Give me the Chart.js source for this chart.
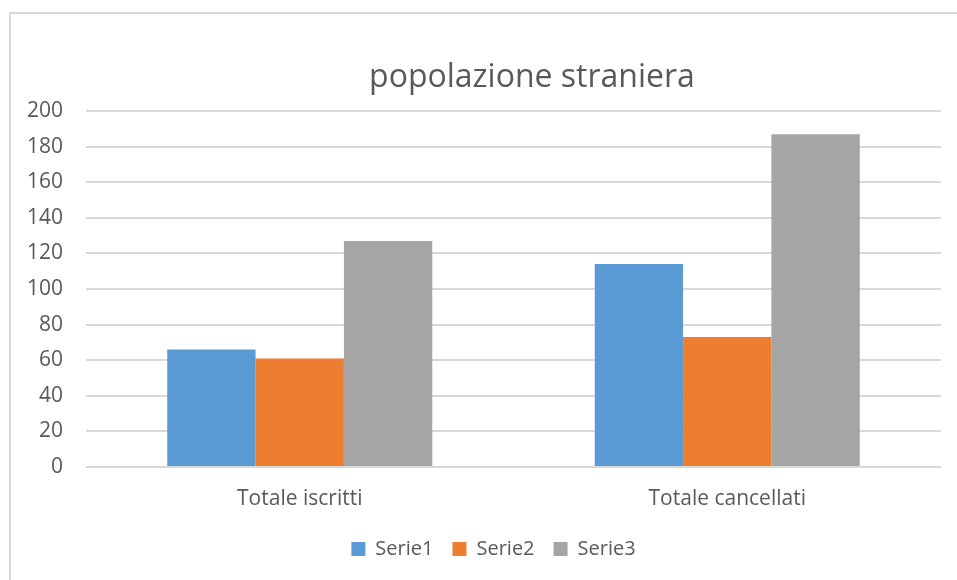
<!DOCTYPE html>
<html>
<head>
<meta charset="utf-8">
<script src="https://cdn.jsdelivr.net/npm/chart.js@4.4.0/dist/chart.umd.min.js"></script>
<style>
    html, body { margin: 0; padding: 0; background: #fff; }
    #wrap { position: relative; width: 957px; height: 580px; overflow: hidden; }
    #frame { position: absolute; left: 9px; top: 12px; width: 960px; height: 600px;
             border-left: 2px solid #d9d9d9; border-top: 2px solid #d9d9d9; box-sizing: border-box; }
    canvas { position: absolute; left: 0; top: 0; }
</style>
</head>
<body>
<div id="wrap">
    <div id="frame"></div>
    <canvas id="chart" width="957" height="580"></canvas>
</div>
<script>
    // Chart data
    const categories = ['Totale iscritti', 'Totale cancellati'];
    const serie1 = [66, 114];
    const serie2 = [61, 73];
    const serie3 = [127, 187];
    const seriesNames = ['Serie1', 'Serie2', 'Serie3'];
    const seriesColors = ['#5B9BD5', '#ED7D31', '#A5A5A5'];
    const yMax = 200;
    const yStep = 20;
    const chartTitle = 'popolazione straniera';

    const textColor = '#595959';
    const fontFamily = '"Open Sans", Lato, sans-serif';

    // The title sits a bit right of centre in the original, so draw it by hand
    const titlePlugin = {
        id: 'offsetTitle',
        afterLayout: function (chart) {
            // nudge the legend right too, the original box is wider than the crop
            chart.legend.left += 18;
            chart.legend.right += 18;
        },
        afterDraw: function (chart) {
            const ctx = chart.ctx;
            ctx.save();
            ctx.font = '32px ' + fontFamily;
            ctx.fillStyle = textColor;
            ctx.textAlign = 'center';
            ctx.textBaseline = 'alphabetic';
            ctx.fillText(chartTitle, 532, 87);
            ctx.restore();
        }
    };

    new Chart(document.getElementById('chart'), {
        type: 'bar',
        data: {
            labels: categories,
            datasets: [serie1, serie2, serie3].map(function (values, i) {
                return {
                    label: seriesNames[i],
                    data: values,
                    backgroundColor: seriesColors[i],
                    borderWidth: 0,
                    categoryPercentage: 0.62,
                    barPercentage: 1.0
                };
            })
        },
        plugins: [titlePlugin],
        options: {
            responsive: false,
            animation: false,
            layout: {
                padding: { left: 10, right: 16, top: 111, bottom: 11 }
            },
            plugins: {
                title: { display: false },
                legend: {
                    position: 'bottom',
                    labels: {
                        color: textColor,
                        font: { family: fontFamily, size: 20 },
                        boxWidth: 14,
                        boxHeight: 14,
                        padding: 19
                    }
                },
                tooltip: { enabled: false }
            },
            scales: {
                x: {
                    grid: { display: false },
                    border: { display: false },
                    ticks: {
                        color: textColor,
                        font: { family: fontFamily, size: 21 },
                        padding: 11
                    },
                    afterFit: function (scale) { scale.height = 53; }
                },
                y: {
                    min: 0,
                    max: yMax,
                    ticks: {
                        stepSize: yStep,
                        color: textColor,
                        font: { family: fontFamily, size: 21 },
                        padding: 23
                    },
                    grid: { color: '#d9d9d9', lineWidth: 2, drawTicks: false },
                    border: { display: false },
                    afterFit: function (scale) { scale.width = 76; }
                }
            }
        }
    });
</script>
</body>
</html>
